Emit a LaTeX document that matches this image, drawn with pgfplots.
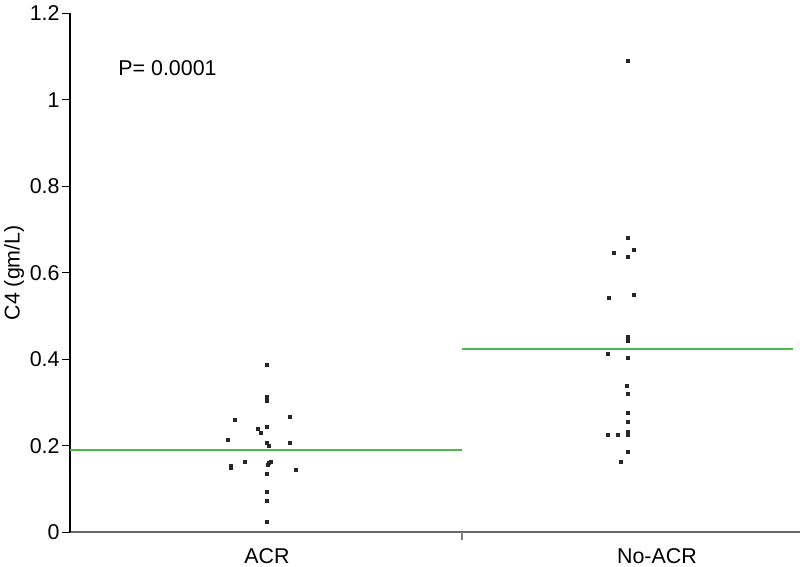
\documentclass[border=0pt]{standalone}
\usepackage{fontspec}
\setmainfont{Liberation Sans}
\usepackage{pgfplots}
\pgfplotsset{compat=1.18}
\definecolor{meangreen}{RGB}{76,187,76}
\begin{document}
\begin{tikzpicture}
\begin{axis}[
  name=ax,
  scale only axis,
  width=365pt, height=259.5pt,
  xmin=0.495, xmax=2.367,
  ymin=0, ymax=1.2,
  axis x line*=bottom, axis y line*=left,
  x axis line style={gray!80!black, line width=0.8pt, -},
  y axis line style={black, line width=0.9pt, -},
  tick align=outside,
  major tick length=4pt,
  ytick={0,0.2,0.4,0.6,0.8,1,1.2},
  yticklabels={0,0.2,0.4,0.6,0.8,1,1.2},
  ytick style={black, line width=0.6pt},
  xtick={1,2},
  xticklabels={ACR,No-ACR},
  xtick style={draw=none},
  extra x ticks={1.5},
  extra x tick labels={},
  extra x tick style={xtick style={draw=gray, line width=0.6pt}},
  /pgf/number format/assume math mode=true,
  tick label style={font=\fontsize{10.7}{12}\selectfont},
  yticklabel style={inner sep=1pt},
  xticklabel style={yshift=-0.5pt},
  ylabel={C4 (gm/L)},
  ylabel style={at={(axis description cs:-0.0767,0.5)}, anchor=center, font=\fontsize{10.7}{12}\selectfont},
  clip=false,
]
\addplot[only marks, mark=square*, mark size=0.75pt, color=black!85] coordinates {
(1.000,0.387) (1.000,0.314) (1.000,0.309) (1.000,0.304)
(0.918,0.260) (1.059,0.266) (0.978,0.239) (1.000,0.243)
(0.985,0.230) (0.899,0.213) (1.000,0.207) (1.004,0.200)
(1.059,0.207) (0.944,0.163) (0.907,0.153) (0.907,0.150)
(1.009,0.163) (1.006,0.160) (1.003,0.156) (1.074,0.1435)
(1.000,0.136) (1.000,0.094) (1.000,0.073) (1.000,0.023)
};
\addplot[only marks, mark=square*, mark size=0.75pt, color=black!85] coordinates {
(1.926,1.090) (1.926,0.680) (1.941,0.652) (1.889,0.646)
(1.926,0.636) (1.878,0.543) (1.941,0.550) (1.926,0.451)
(1.926,0.447) (1.926,0.443) (1.874,0.413) (1.926,0.403)
(1.922,0.339) (1.926,0.319) (1.926,0.276) (1.926,0.256)
(1.874,0.226) (1.899,0.226) (1.926,0.231) (1.926,0.226)
(1.926,0.186) (1.907,0.163)
};
\addplot[meangreen, line width=1pt] coordinates {(0.495,0.190) (1.5,0.190)};
\addplot[meangreen, line width=1pt] coordinates {(1.5,0.4245) (2.348,0.4245)};
\node[anchor=west, inner sep=0pt, font=\fontsize{10.7}{12}\selectfont] at (axis description cs:0.0658,0.8946) {P= 0.0001};
\end{axis}
\pgfresetboundingbox
\path ([xshift=-35pt,yshift=-17.35pt]ax.south west) rectangle ([yshift=6.65pt]ax.north east);
\end{tikzpicture}
\end{document}
